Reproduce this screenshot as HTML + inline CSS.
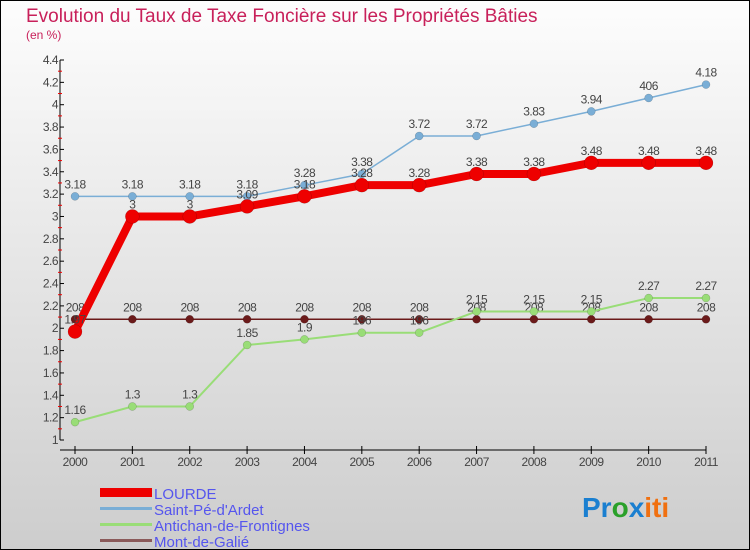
<!DOCTYPE html>
<html><head><meta charset="utf-8"><style>
body{margin:0;}
svg{display:block;font-family:"Liberation Sans",sans-serif;}
</style></head><body>
<svg id="c" width="750" height="550" viewBox="0 0 750 550">
<defs><linearGradient id="bg" x1="0" y1="0" x2="0" y2="1"><stop offset="0" stop-color="#fdfdfd"/><stop offset="1" stop-color="#cdcdcd"/></linearGradient></defs>
<rect x="0.5" y="0.5" width="749" height="549" fill="url(#bg)" stroke="#000"/>
<text x="26" y="22" font-size="19" fill="#c8205a">Evolution du Taux de Taxe Foncière sur les Propriétés Bâties</text>
<text x="26" y="39" font-size="12" fill="#c8205a">(en %)</text>
<g id="axes"></g><g id="series"></g>
<g>
<rect x="100" y="488" width="52" height="9" fill="#e00"/>
<text x="154" y="499" font-size="15" fill="#5555ee">LOURDE</text>
<rect x="100" y="507" width="52" height="3" fill="#7aaed6"/>
<text x="154" y="515" font-size="15" fill="#5555ee">Saint-Pé-d'Ardet</text>
<rect x="100" y="523" width="52" height="3" fill="#99dd77"/>
<text x="154" y="531" font-size="15" fill="#5555ee">Antichan-de-Frontignes</text>
<rect x="100" y="539" width="52" height="3" fill="#8a5a5a"/>
<text x="154" y="547" font-size="15" fill="#5555ee">Mont-de-Galié</text>
</g>
<text x="582" y="517" font-size="28" font-weight="bold"><tspan fill="#1a7fd0">Pr</tspan><tspan fill="#2aa02a">o</tspan><tspan fill="#1a7fd0">x</tspan><tspan fill="#f07010">iti</tspan></text>
</svg>
<script>
const years=[2000,2001,2002,2003,2004,2005,2006,2007,2008,2009,2010,2011];
const lourde=[1.97,3,3,3.09,3.18,3.28,3.28,3.38,3.38,3.48,3.48,3.48];
const lourdeLabels=["1.97","3","3","3.09","3.18","3.28","3.28","3.38","3.38","3.48","3.48","3.48"];
const saintPe=[3.18,3.18,3.18,3.18,3.28,3.38,3.72,3.72,3.83,3.94,4.06,4.18];
const saintPeLabels=["3.18","3.18","3.18","3.18","3.28","3.38","3.72","3.72","3.83","3.94","406","4.18"];
const antichan=[1.16,1.3,1.3,1.85,1.9,1.96,1.96,2.15,2.15,2.15,2.27,2.27];
const antichanLabels=["1.16","1.3","1.3","1.85","1.9","196","196","2.15","2.15","2.15","2.27","2.27"];
const mont=[2.08,2.08,2.08,2.08,2.08,2.08,2.08,2.08,2.08,2.08,2.08,2.08];
const montLabels=["208","208","208","208","208","208","208","208","208","208","208","208"];
const yTicks=[1,1.2,1.4,1.6,1.8,2,2.2,2.4,2.6,2.8,3,3.2,3.4,3.6,3.8,4,4.2,4.4];
const NS="http://www.w3.org/2000/svg";
const X=i=>75+i*(706-75)/11;
const Y=v=>440-(v-1)*(380/3.4);
function mk(t,a,p){const e=document.createElementNS(NS,t);for(const k in a)e.setAttribute(k,a[k]);p.appendChild(e);return e;}
const ax=document.getElementById('axes'),sg=document.getElementById('series');
const yl=mk('line',{x1:60,y1:60,x2:60,y2:440,stroke:'#000','stroke-width':1},ax);


const xl=mk('line',{x1:60,y1:450,x2:706,y2:450,stroke:'#000','stroke-width':1},ax);


yTicks.forEach((v,i)=>{const y=Y(v);mk('line',{x1:60,y1:y,x2:64,y2:y,stroke:'#000'},ax);
 if(i<yTicks.length-1)mk('line',{x1:58,y1:Y(v+0.1),x2:62,y2:Y(v+0.1),stroke:'#e00'},ax);
 const t=mk('text',{x:58,y:y+4,'font-size':12,fill:'#444','text-anchor':'end','letter-spacing':'-0.5'},ax);t.textContent=String(v);
 
 });
years.forEach((yr,i)=>{mk('line',{x1:X(i),y1:446,x2:X(i),y2:454,stroke:'#000'},ax);
 const t=mk('text',{x:X(i),y:466,'font-size':12,fill:'#444','text-anchor':'middle','letter-spacing':'-0.5'},ax);t.textContent=yr;
 
 });
function series(vals,labels,color,lw,r,name){
 const g=mk('g',{},sg);
 
 
 mk('polyline',{points:vals.map((v,i)=>X(i)+','+Y(v)).join(' '),fill:'none',stroke:color,'stroke-width':lw,'stroke-linejoin':'round'},g);
 vals.forEach((v,i)=>{const c=mk('circle',{cx:X(i),cy:Y(v),r:r,fill:color,stroke:'rgba(0,0,0,0.25)','stroke-width':0.5},g);
  
  
  const t=mk('text',{x:X(i),y:Y(v)-8,'font-size':12,fill:'#444','text-anchor':'middle','letter-spacing':'-0.5'},g);t.textContent=labels[i];
  
  });
}
series(mont,montLabels,'#6b1a1a',1.5,4,'mont-de-galie');
series(antichan,antichanLabels,'#99dd77',2,4,'antichan');
series(saintPe,saintPeLabels,'#7aaed6',1.5,4,'saint-pe');
series(lourde,lourdeLabels,'#ee0000',8,7,'lourde');
</script>
</body></html>
